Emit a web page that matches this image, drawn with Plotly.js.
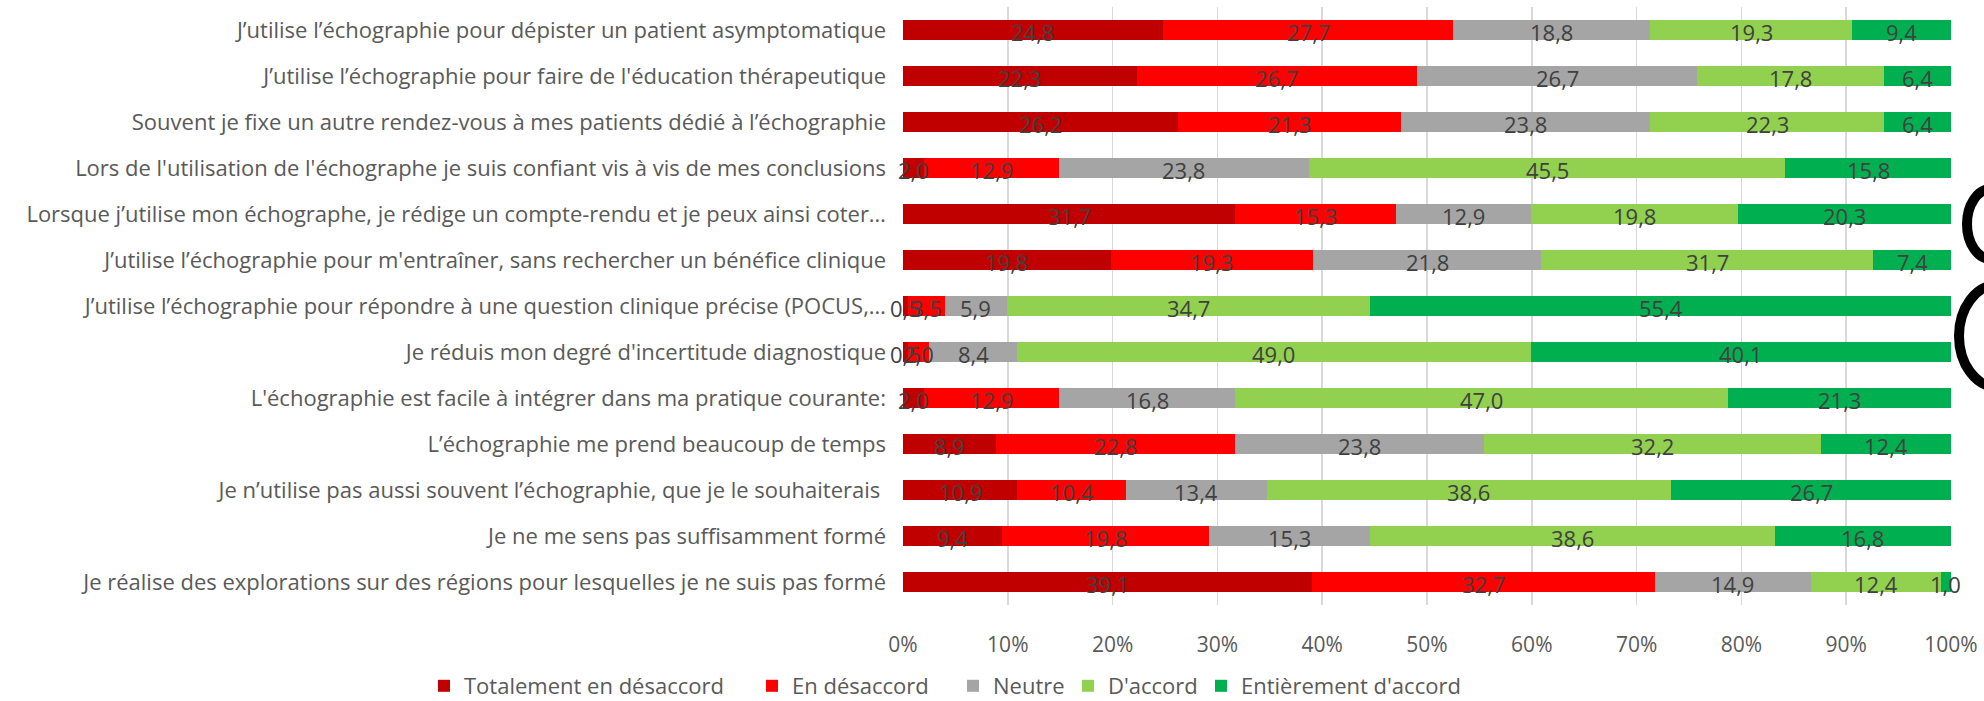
<!DOCTYPE html>
<html>
<head>
<meta charset="utf-8">
<script src="https://cdn.plot.ly/plotly-3.0.1.min.js"></script>
<style>html,body{margin:0;padding:0;background:#fff;}#chart{width:1984px;height:701px;}</style>
</head>
<body>
<div id="chart"></div>
<script>
const categories = [
  "J’utilise l’échographie pour dépister un patient asymptomatique",
  "J’utilise l’échographie pour faire de l'éducation thérapeutique",
  "Souvent je fixe un autre rendez-vous à mes patients dédié à l’échographie",
  "Lors de l'utilisation de l'échographe je suis confiant vis à vis de mes conclusions",
  "Lorsque j’utilise mon échographe, je rédige un compte-rendu et je peux ainsi coter…",
  "J’utilise l’échographie pour m'entraîner, sans rechercher un bénéfice clinique",
  "J’utilise l’échographie pour répondre à une question clinique précise (POCUS,…",
  "Je réduis mon degré d'incertitude diagnostique",
  "L'échographie est facile à intégrer dans ma pratique courante:",
  "L’échographie me prend beaucoup de temps",
  "Je n’utilise pas aussi souvent l’échographie, que je le souhaiterais ",
  "Je ne me sens pas suffisamment formé",
  "Je réalise des explorations sur des régions pour lesquelles je ne suis pas formé"
];
const seriesNames = ["Totalement en désaccord", "En désaccord", "Neutre", "D'accord", "Entièrement d'accord"];
const totDesaccord = [24.8, 22.3, 26.2, 2.0, 31.7, 19.8, 0.5, 0.5, 2.0, 8.9, 10.9, 9.4, 39.1];
const enDesaccord  = [27.7, 26.7, 21.3, 12.9, 15.3, 19.3, 3.5, 2.0, 12.9, 22.8, 10.4, 19.8, 32.7];
const neutre       = [18.8, 26.7, 23.8, 23.8, 12.9, 21.8, 5.9, 8.4, 16.8, 23.8, 13.4, 15.3, 14.9];
const daccord      = [19.3, 17.8, 22.3, 45.5, 19.8, 31.7, 34.7, 49.0, 47.0, 32.2, 38.6, 38.6, 12.4];
const entDaccord   = [9.4, 6.4, 6.4, 15.8, 20.3, 7.4, 55.4, 40.1, 21.3, 12.4, 26.7, 16.8, 1.0];
const xTickVals = [0, 10, 20, 30, 40, 50, 60, 70, 80, 90, 100];
const xTickText = ["0%", "10%", "20%", "30%", "40%", "50%", "60%", "70%", "80%", "90%", "100%"];

const colors = ["#C00000", "#FF0000", "#A5A5A5", "#92D050", "#00B050"];
const allSeries = [totDesaccord, enDesaccord, neutre, daccord, entDaccord];
const FONT = "'Open Sans', 'Liberation Sans', sans-serif";

const fmt = v => v.toFixed(1).replace('.', ',');
const legendIds = ['legend', 'legend2', 'legend3', 'legend4', 'legend5'];

const traces = allSeries.map((vals, i) => ({
  type: 'bar',
  orientation: 'h',
  name: seriesNames[i],
  legend: legendIds[i],
  y: categories,
  x: vals,
  marker: {color: colors[i], line: {width: 0}},
  hoverinfo: 'skip'
}));

// value labels drawn on top of all bars, centred on each (100%-normalised) segment
const annotations = [];
categories.forEach((cat, r) => {
  const total = allSeries.reduce((s, ser) => s + ser[r], 0);
  let start = 0;
  allSeries.forEach((ser) => {
    const pct = ser[r] / total * 100;
    annotations.push({
      x: start + pct / 2, y: cat, xref: 'x', yref: 'y',
      text: fmt(ser[r]), showarrow: false, yshift: -2,
      font: {family: FONT, size: 22, color: '#404040'}
    });
    start += pct;
  });
});

// pixel helpers for layout placement
const L = 903, R = 1951, T = 7, B = 605;
const px = x => (x - L) / (R - L);
const py = y => (B - y) / (B - T);

const layout = {
  width: 1984,
  height: 701,
  margin: {l: L, r: 1984 - R, t: T, b: 701 - B, pad: 0, autoexpand: false},
  paper_bgcolor: '#ffffff',
  plot_bgcolor: '#ffffff',
  barmode: 'stack',
  barnorm: 'percent',
  bargap: 0.58,
  font: {family: FONT, size: 22, color: '#595959'},
  showlegend: true,
  annotations: annotations,
  xaxis: {
    range: [0, 100],
    tickvals: xTickVals,
    ticktext: xTickText,
    showgrid: true,
    gridcolor: '#d9d9d9',
    gridwidth: 1.5,
    zeroline: false,
    showline: false,
    ticks: '',
    ticklabelstandoff: 25,
    tickfont: {family: FONT, size: 21, color: '#595959'},
    fixedrange: true
  },
  yaxis: {
    type: 'category',
    autorange: 'reversed',
    showgrid: false,
    zeroline: false,
    showline: false,
    ticks: '',
    ticklabelstandoff: 16,
    tickfont: {family: FONT, size: 22, color: '#595959'},
    fixedrange: true
  },
  shapes: [
    {type: 'circle', xref: 'paper', yref: 'paper', x0: px(1967), x1: px(2015), y0: py(189), y1: py(259), line: {color: '#000', width: 10}, layer: 'above'},
    {type: 'circle', xref: 'paper', yref: 'paper', x0: px(1959), x1: px(2035), y0: py(285), y1: py(387), line: {color: '#000', width: 10}, layer: 'above'}
  ]
};

// one legend per series so each entry sits where the reference puts it
const legendLeft = [424, 752, 953, 1068, 1201];
legendIds.forEach((id, i) => {
  layout[id] = {
    orientation: 'h',
    x: px(legendLeft[i]),
    xanchor: 'left',
    y: py(686),
    yanchor: 'middle',
    font: {family: FONT, size: 22, color: '#595959'},
    bgcolor: 'rgba(0,0,0,0)'
  };
});

Plotly.newPlot('chart', traces, layout, {displayModeBar: false, staticPlot: true});
</script>
</body>
</html>
